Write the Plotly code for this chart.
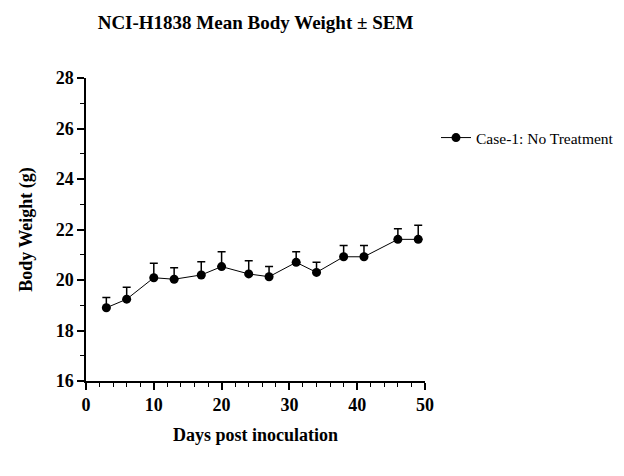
import plotly.graph_objects as go

days = [3, 6, 10, 13, 17, 20, 24, 27, 31, 34, 38, 41, 46, 49]
mean_weight = [18.90, 19.24, 20.09, 20.03, 20.20, 20.53, 20.24, 20.13, 20.70, 20.30, 20.92, 20.92, 21.61, 21.61]
sem = [0.41, 0.47, 0.57, 0.46, 0.52, 0.59, 0.52, 0.40, 0.42, 0.40, 0.45, 0.45, 0.42, 0.56]
series_name = "Case-1: No Treatment"

FONT = "Liberation Serif, Times New Roman, serif"

fig = go.Figure()
fig.add_trace(go.Scatter(
    x=days, y=mean_weight, mode="lines+markers", name=series_name,
    line=dict(color="black", width=1),
    marker=dict(color="black", size=9, symbol="circle"),
    error_y=dict(type="data", array=sem, arrayminus=[0]*len(sem), symmetric=False,
                 color="black", thickness=1.5, width=4),
))

fig.update_layout(
    width=624, height=476,
    margin=dict(l=86, r=199, t=78, b=95, autoexpand=False),
    plot_bgcolor="white", paper_bgcolor="white",
    font=dict(family=FONT, color="black"),
    title=dict(text="<b>NCI-H1838 Mean Body Weight ± SEM</b>", x=0.5, xref="paper",
               y=0.953, yref="container", yanchor="middle",
               font=dict(size=19, family=FONT, color="black")),
    showlegend=True,
    legend=dict(x=436/624, y=1 - 138/476, xref="container", yref="container",
                xanchor="left", yanchor="middle",
                font=dict(size=15.5, family=FONT, color="black"),
                bgcolor="rgba(0,0,0,0)", itemwidth=30),
    xaxis=dict(
        range=[0, 50], tickmode="linear", tick0=0, dtick=10,
        showgrid=False, zeroline=False, showline=True, linecolor="black", linewidth=1.5,
        ticks="outside", ticklen=7, tickwidth=1.5, tickcolor="black",
        tickfont=dict(size=18, family=FONT, color="black"),
        tickprefix="<b>", ticksuffix="</b>",
        minor=dict(dtick=2, ticks="outside", ticklen=4, tickwidth=1, tickcolor="black"),
        title=dict(text="<b>Days post inoculation</b>", font=dict(size=18, family=FONT, color="black"), standoff=14),
    ),
    yaxis=dict(
        range=[16, 28], tickmode="linear", tick0=16, dtick=2,
        showgrid=False, zeroline=False, showline=True, linecolor="black", linewidth=1.5,
        ticks="outside", ticklen=7, tickwidth=1.5, tickcolor="black",
        tickfont=dict(size=18, family=FONT, color="black"),
        tickprefix="<b>", ticksuffix="</b>",
        minor=dict(dtick=1, ticks="outside", ticklen=4, tickwidth=1, tickcolor="black"),
        title=dict(text="<b>Body Weight (g)</b>", font=dict(size=18, family=FONT, color="black"), standoff=18),
    ),
)

fig.write_html("out.html")
